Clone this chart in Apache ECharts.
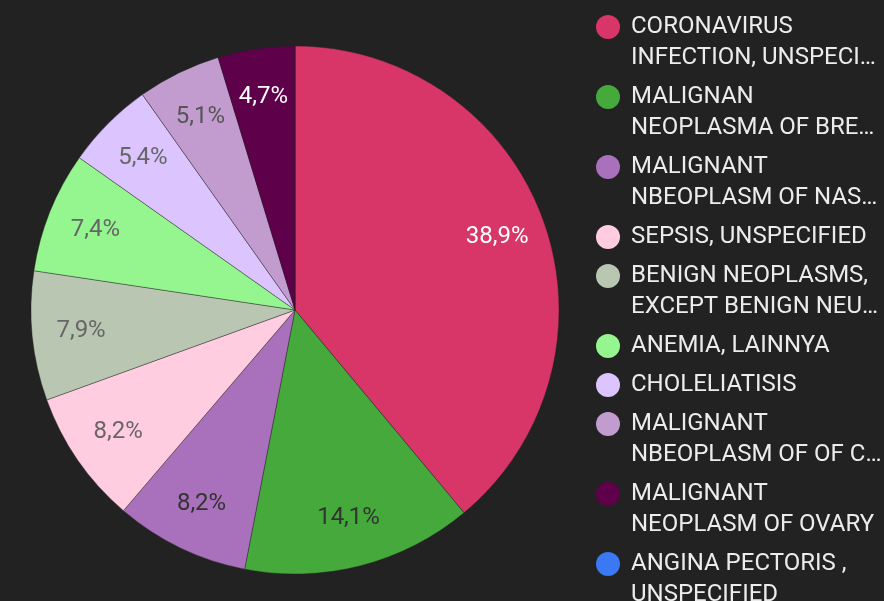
<!DOCTYPE html>
<html>
<head>
<meta charset="utf-8">
<script src="https://cdn.jsdelivr.net/npm/echarts@6/dist/echarts.min.js"></script>
<style>
html,body{margin:0;padding:0;background:#222222;}
#chart{width:884px;height:601px;}
</style>
</head>
<body>
<div id="chart"></div>
<script>
const categories = [
  'CORONAVIRUS INFECTION, UNSPECIFIED',
  'MALIGNAN NEOPLASMA OF BREAST',
  'MALIGNANT NBEOPLASM OF NASOPHARYNX',
  'SEPSIS, UNSPECIFIED',
  'BENIGN NEOPLASMS, EXCEPT BENIGN NEUROENDOCRINE TUMORS',
  'ANEMIA, LAINNYA',
  'CHOLELIATISIS',
  'MALIGNANT NBEOPLASM OF OF CERVIX UTERI',
  'MALIGNANT NEOPLASM OF OVARY',
  'ANGINA PECTORIS , UNSPECIFIED'
];
const legendLines = [
  ['CORONAVIRUS', 'INFECTION, UNSPECI\u2026'],
  ['MALIGNAN', 'NEOPLASMA OF BRE\u2026'],
  ['MALIGNANT', 'NBEOPLASM OF NAS\u2026'],
  ['SEPSIS, UNSPECIFIED'],
  ['BENIGN NEOPLASMS,', 'EXCEPT BENIGN NEU\u2026'],
  ['ANEMIA, LAINNYA'],
  ['CHOLELIATISIS'],
  ['MALIGNANT', 'NBEOPLASM OF OF C\u2026'],
  ['MALIGNANT', 'NEOPLASM OF OVARY'],
  ['ANGINA PECTORIS ,', 'UNSPECIFIED']
];
const values = [38.9, 14.1, 8.2, 8.2, 7.9, 7.4, 5.4, 5.1, 4.7, 0];
const colors = ['#d83668', '#45a93b', '#a970bb', '#ffcddf', '#b8c6b2', '#95f58e', '#dcc5ff', '#c39ccf', '#5f004b', '#3b78f3'];
const labelColors = ['#ffffff', '#333333', '#333333', '#666666', '#666666', '#666666', '#666666', '#555555', '#ffffff', '#ffffff'];

const chart = echarts.init(document.getElementById('chart'), null, {renderer: 'canvas'});

const LH = 31;
const rich = {
  t: {fontFamily: 'Roboto', fontSize: 24, color: '#ececec', lineHeight: LH},
  g: {width: 11, lineHeight: LH},
  s: {width: 24, lineHeight: LH}
};
colors.forEach((c, i) => {
  rich['d' + i] = {width: 24, height: 24, borderRadius: 12, backgroundColor: c, lineHeight: LH};
});

const pieData = categories.map((n, i) => ({name: n, value: values[i], itemStyle: {color: colors[i]}}));
const labelData = categories.map((n, i) => ({
  name: n, value: values[i],
  label: {show: values[i] > 0, color: labelColors[i]}
}));

chart.setOption({
  backgroundColor: '#222222',
  animation: false,
  legend: {
    orient: 'vertical',
    left: 591,
    top: 15,
    height: 700,
    padding: 0,
    itemGap: 15,
    icon: 'none',
    itemWidth: 0,
    itemHeight: 14,
    selectedMode: false,
    data: categories,
    textStyle: {rich: rich, padding: 0},
    formatter: function (name) {
      const i = categories.indexOf(name);
      const lines = legendLines[i];
      let s = '{d' + i + '|}{g|}{t|' + lines[0] + '}';
      for (let k = 1; k < lines.length; k++) {
        s += '\n{s|}{g|}{t|' + lines[k] + '}';
      }
      return s;
    }
  },
  series: [
    {
      type: 'pie',
      center: [295, 310],
      radius: [0, 264],
      startAngle: 90,
      clockwise: true,
      stillShowZeroSum: true,
      label: {show: false},
      labelLine: {show: false},
      itemStyle: {borderColor: '#222222', borderWidth: 0.4},
      emphasis: {disabled: true},
      data: pieData
    },
    {
      type: 'pie',
      center: [295, 310],
      radius: [160, 264],
      startAngle: 90,
      clockwise: true,
      silent: true,
      itemStyle: {color: 'rgba(0,0,0,0)'},
      label: {
        show: true,
        position: 'inside',
        fontFamily: 'Roboto',
        fontSize: 24,
        formatter: function (p) { return p.value.toFixed(1).replace('.', ',') + '%'; }
      },
      labelLine: {show: false},
      emphasis: {disabled: true},
      data: labelData
    }
  ]
});
</script>
</body>
</html>
